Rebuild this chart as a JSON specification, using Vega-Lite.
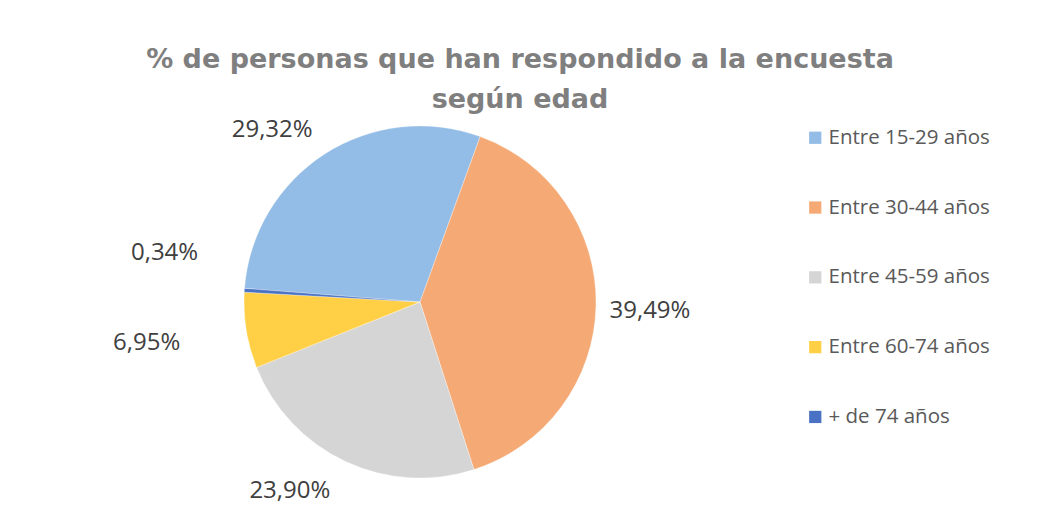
{
  "$schema": "https://vega.github.io/schema/vega-lite/v6.json",
  "width": 818,
  "height": 352,
  "padding": {"left": 11, "top": 41, "right": 0, "bottom": 0},
  "background": "white",
  "config": {
    "view": {"stroke": null},
    "locale": {"number": {"decimal": ",", "thousands": ".", "grouping": [3], "currency": ["", " €"]}}
  },
  "title": {
    "text": ["% de personas que han respondido a la encuesta", "según edad"],
    "font": "DejaVu Sans",
    "fontSize": 27,
    "fontWeight": "bold",
    "color": "#7f7f7f",
    "lineHeight": 40,
    "anchor": "middle",
    "frame": "group",
    "dx": 100,
    "offset": -73
  },
  "data": {
    "values": [
      {"edad": "Entre 15-29 años", "pct": 0.2932, "orden": 1},
      {"edad": "Entre 30-44 años", "pct": 0.3949, "orden": 2},
      {"edad": "Entre 45-59 años", "pct": 0.2390, "orden": 3},
      {"edad": "Entre 60-74 años", "pct": 0.0695, "orden": 4},
      {"edad": "+ de 74 años", "pct": 0.0034, "orden": 5}
    ]
  },
  "encoding": {
    "theta": {"field": "pct", "type": "quantitative", "stack": true, "scale": {"range": [4.790, 11.073]}},
    "order": {"field": "orden", "type": "quantitative"},
    "detail": {"field": "edad", "type": "nominal"}
  },
  "layer": [
    {
      "mark": {"type": "arc", "outerRadius": 176, "stroke": "#ffffff", "strokeWidth": 0.3},
      "encoding": {
        "color": {
          "field": "edad",
          "type": "nominal",
          "scale": {
            "domain": ["Entre 15-29 años", "Entre 30-44 años", "Entre 45-59 años", "Entre 60-74 años", "+ de 74 años"],
            "range": ["#93bde6", "#f5aa76", "#d5d5d5", "#ffd045", "#4a72c4"]
          },
          "legend": {
            "orient": "none",
            "legendX": 794,
            "legendY": 1.5,
            "title": null,
            "symbolType": "square",
            "symbolSize": 150,
            "symbolStrokeWidth": 0,
            "labelFont": "Open Sans",
            "labelFontSize": 20.5,
            "labelColor": "#595959",
            "labelOffset": 3,
            "labelLimit": 400,
            "rowPadding": 48.8
          }
        }
      }
    },
    {
      "mark": {"type": "text", "radius": 225, "dx": -26, "dy": 17, "font": "Open Sans", "fontSize": 24, "fill": "#404040"},
      "encoding": {"text": {"condition": {"test": "datum.edad === 'Entre 15-29 años'", "field": "pct", "type": "quantitative", "format": ".2%"}, "value": ""}}
    },
    {
      "mark": {"type": "text", "radius": 230, "dx": 0, "dy": 5, "font": "Open Sans", "fontSize": 24, "fill": "#404040"},
      "encoding": {"text": {"condition": {"test": "datum.edad === 'Entre 30-44 años'", "field": "pct", "type": "quantitative", "format": ".2%"}, "value": ""}}
    },
    {
      "mark": {"type": "text", "radius": 226, "dx": -34, "dy": -16, "font": "Open Sans", "fontSize": 24, "fill": "#404040"},
      "encoding": {"text": {"condition": {"test": "datum.edad === 'Entre 45-59 años'", "field": "pct", "type": "quantitative", "format": ".2%"}, "value": ""}}
    },
    {
      "mark": {"type": "text", "radius": 278, "dx": 1, "dy": -4, "font": "Open Sans", "fontSize": 24, "fill": "#404040"},
      "encoding": {"text": {"condition": {"test": "datum.edad === 'Entre 60-74 años'", "field": "pct", "type": "quantitative", "format": ".2%"}, "value": ""}}
    },
    {
      "mark": {"type": "text", "radius": 258, "dx": 2, "dy": -32, "font": "Open Sans", "fontSize": 24, "fill": "#404040"},
      "encoding": {"text": {"condition": {"test": "datum.edad === '+ de 74 años'", "field": "pct", "type": "quantitative", "format": ".2%"}, "value": ""}}
    }
  ]
}
